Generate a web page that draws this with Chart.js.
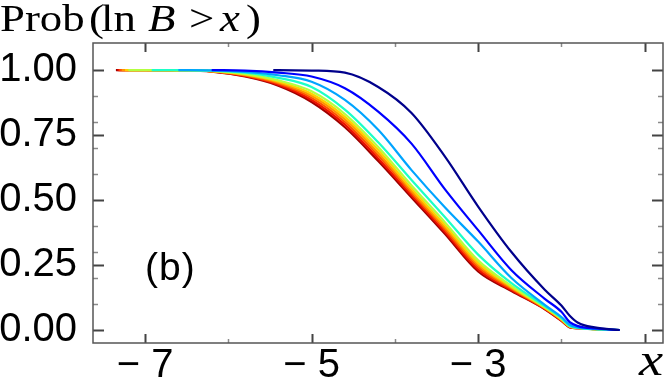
<!DOCTYPE html>
<html>
<head>
<meta charset="utf-8">
<script src="https://cdn.jsdelivr.net/npm/chart.js@4.4.0/dist/chart.umd.min.js"></script>
<style>
  html, body { margin: 0; padding: 0; background: #fff; }
  #wrap { width: 664px; height: 384px; }
</style>
</head>
<body>
<div id="wrap"><canvas id="chart" width="664" height="384"></canvas></div>
<script>
// x positions shared by all curves (null = curve not started yet)
const xGrid = [-7.0, -6.6, -6.2, -5.8, -5.4, -5.0, -4.6, -4.2, -3.8, -3.4, -3.0, -2.6, -2.2, -2.0, -1.9, -1.8, -1.6, -1.3];

const darkRed   = [1.0, .999, .994, .975, .94, .877, .78, .65, .51, .37, .225, .15, .08, .035, .01, .007, .003, 0];
const red       = [1.0, .999, .995, .977, .944, .885, .79, .66, .518, .378, .233, .154, .081, .036, .011, .007, .003, 0];
const orangeRed = [1.0, .999, .995, .979, .948, .893, .80, .671, .527, .387, .242, .158, .083, .038, .012, .007, .003, 0];
const orange    = [1.0, .999, .996, .981, .952, .901, .81, .681, .535, .395, .25, .162, .085, .04, .013, .008, .003, 0];
const yellow    = [1.0, .999, .996, .983, .956, .909, .82, .692, .544, .404, .258, .166, .086, .041, .013, .008, .003, 0];
const lime      = [1.0, .999, .997, .985, .96, .918, .831, .704, .556, .415, .268, .17, .088, .043, .014, .008, .003, 0];
const aqua      = [null, 1.0, .998, .99, .97, .935, .848, .722, .577, .435, .29, .18, .092, .046, .015, .008, .003, 0];
const sky       = [null, null, .999, .993, .98, .955, .885, .77, .615, .472, .34, .20, .097, .05, .02, .01, .004, 0];
const blue      = [null, null, null, .998, .99, .975, .93, .84, .717, .542, .384, .23, .12, .07, .03, .015, .006, 0];
const navy      = [null, null, null, null, 1.0, .998, .99, .935, .835, .668, .475, .30, .155, .094, .055, .028, .01, 0];

// where each curve begins (at Prob = 1)
const seriesList  = [navy, blue, sky, aqua, lime, yellow, orange, orangeRed, red, darkRed];
const startX      = [-5.46, -6.2, -6.6, -6.92, -7.2, -7.24, -7.28, -7.31, -7.33, -7.35];
const lineColors  = ['#00008c', '#0000ff', '#00a4ff', '#1cffc8', '#b4ff40', '#ffd000', '#ff9400', '#ff5000', '#ec1000', '#a00000'];

const xTickLabels = [-7, -5, -3];
const xMajor = [-7, -5, -3, -1];
const xMinor = [-6, -4, -2];
const yTickLabels = [0, 0.25, 0.5, 0.75, 1.0];
const yMinor = [0.1, 0.2, 0.3, 0.4, 0.6, 0.7, 0.8, 0.9];

function buildPoints(values, x0) {
    const pts = [{ x: x0, y: 1 }];
    values.forEach((v, i) => {
        if (v !== null && xGrid[i] > x0) pts.push({ x: xGrid[i], y: v });
    });
    return pts;
}

const datasets = seriesList.map((vals, i) => ({
    data: buildPoints(vals, startX[i]),
    borderColor: lineColors[i],
    borderWidth: 2.2,
    pointRadius: 0,
    fill: false,
    cubicInterpolationMode: 'monotone'
}));

// frame, inward ticks and the extra texts
const framePlugin = {
    id: 'frame',
    afterDraw(chart) {
        const ctx = chart.ctx;
        const a = chart.chartArea;
        const xs = chart.scales.x, ys = chart.scales.y;
        ctx.save();
        ctx.lineCap = 'butt';

        function tickX(v, len, color, w) {
            const px = Math.round(xs.getPixelForValue(v)) + 0.5;
            ctx.strokeStyle = color; ctx.lineWidth = w;
            ctx.beginPath();
            ctx.moveTo(px, a.bottom); ctx.lineTo(px, a.bottom - len);
            ctx.moveTo(px, a.top); ctx.lineTo(px, a.top + len);
            ctx.stroke();
        }
        function tickY(v, len, color, w) {
            const py = Math.round(ys.getPixelForValue(v)) + 0.5;
            ctx.strokeStyle = color; ctx.lineWidth = w;
            ctx.beginPath();
            ctx.moveTo(a.left, py); ctx.lineTo(a.left + len, py);
            ctx.moveTo(a.right, py); ctx.lineTo(a.right - len, py);
            ctx.stroke();
        }
        xMinor.forEach(v => tickX(v, 4, '#8a8a8a', 1.5));
        xMajor.forEach(v => tickX(v, 9, '#444', 2));
        yMinor.forEach(v => tickY(v, 5, '#8a8a8a', 1.5));
        yTickLabels.forEach(v => tickY(v, 11, '#444', 2));

        ctx.strokeStyle = '#555';
        ctx.lineWidth = 1.5;
        ctx.strokeRect(a.left, a.top, a.right - a.left, a.bottom - a.top);

        // title pieces: Prob(ln B > x)
        ctx.fillStyle = '#000';
        ctx.textBaseline = 'alphabetic';
        const pieces = [
            ['Prob', 0, false], ['(', 89, false], ['ln', 101, false], ['B', 148, true],
            ['>', 189, false], ['x', 220, true], [')', 246, false]
        ];
        pieces.forEach(([t, x, it]) => {
            ctx.save();
            ctx.translate(x, 31);
            ctx.scale(1.18, 1);
            ctx.font = (it ? 'italic ' : '') + '38px "Liberation Serif"';
            ctx.fillText(t, 0, 0);
            ctx.restore();
        });

        // axis name
        ctx.save();
        ctx.translate(639, 375);
        ctx.scale(1.18, 1);
        ctx.font = 'italic 46px "Liberation Serif"';
        ctx.fillText('x', 0, 0);
        ctx.restore();

        // panel label
        ctx.font = '39px "Liberation Sans"';
        ctx.letterSpacing = '1px';
        ctx.fillText('(b)', 145, 280);
        ctx.letterSpacing = '0px';
        ctx.restore();
    }
};

new Chart(document.getElementById('chart').getContext('2d'), {
    type: 'line',
    data: { datasets },
    options: {
        responsive: false,
        animation: false,
        devicePixelRatio: 1,
        layout: { padding: { top: 43, right: 1, left: 0, bottom: 0 } },
        plugins: {
            legend: { display: false },
            tooltip: { enabled: false }
        },
        scales: {
            x: {
                type: 'linear',
                min: -7.625,
                max: -0.78,
                grid: { display: false, drawTicks: false },
                border: { display: false },
                afterBuildTicks: (scale) => { scale.ticks = xTickLabels.map(v => ({ value: v })); },
                afterFit: (scale) => { scale.height = 41; },
                ticks: {
                    autoSkip: false,
                    maxRotation: 0,
                    padding: -1,
                    color: '#000',
                    font: { family: 'Liberation Sans', size: 40 },
                    callback: (v) => '\u2212 ' + Math.abs(v)
                }
            },
            y: {
                min: -0.05,
                max: 1.104,
                grid: { display: false, drawTicks: false },
                border: { display: false },
                afterBuildTicks: (scale) => { scale.ticks = yTickLabels.map(v => ({ value: v })); },
                afterFit: (scale) => { scale.width = 93; },
                ticks: {
                    autoSkip: false,
                    padding: 16,
                    color: '#000',
                    font: { family: 'Liberation Sans', size: 40 },
                    callback: (v) => Number(v).toFixed(2)
                }
            }
        }
    },
    plugins: [framePlugin]
});
</script>
</body>
</html>
